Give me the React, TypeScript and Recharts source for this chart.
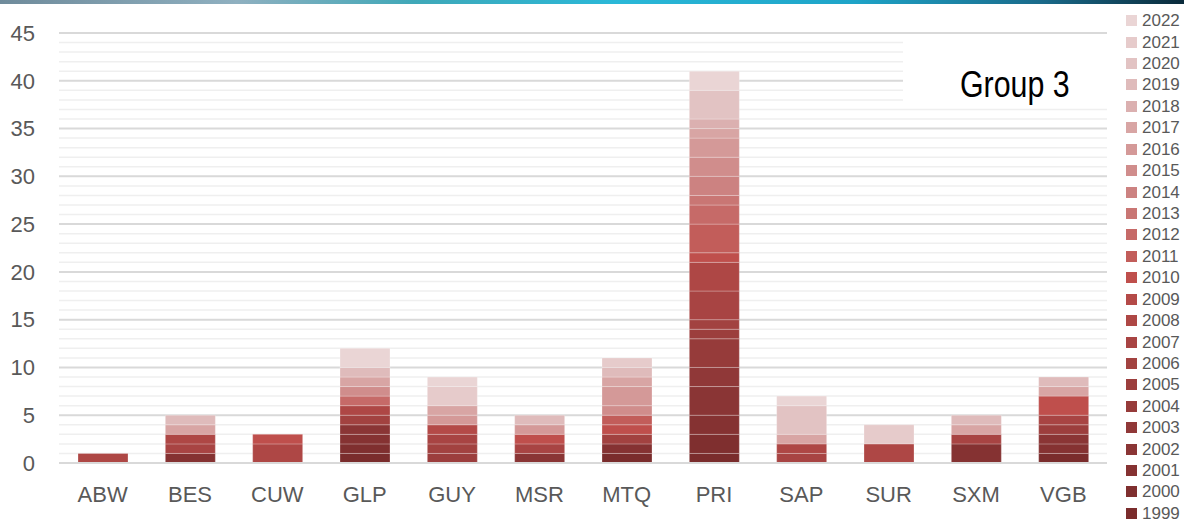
import React from 'react';
import { BarChart, Bar, XAxis, YAxis, CartesianGrid } from 'recharts';

const categories = ['ABW', 'BES', 'CUW', 'GLP', 'GUY', 'MSR', 'MTQ', 'PRI', 'SAP', 'SUR', 'SXM', 'VGB'];
const years = ['1999', '2000', '2001', '2002', '2003', '2004', '2005', '2006', '2007', '2008', '2009', '2010', '2011', '2012', '2013', '2014', '2015', '2016', '2017', '2018', '2019', '2020', '2021', '2022'];
const yTicks = [0, 5, 10, 15, 20, 25, 30, 35, 40, 45];
const minorGrid = [1, 2, 3, 4, 6, 7, 8, 9, 11, 12, 13, 14, 16, 17, 18, 19, 21, 22, 23, 24, 26, 27, 28, 29, 31, 32, 33, 34, 36, 37, 38, 39, 41, 42, 43, 44];

//            ABW BES CUW GLP GUY MSR MTQ PRI SAP SUR SXM VGB
const v1999 = [0, 0, 0, 1, 0, 0, 1, 1, 0, 0, 0, 1];
const v2000 = [0, 0, 0, 1, 0, 0, 0, 2, 0, 0, 0, 0];
const v2001 = [0, 1, 0, 1, 0, 0, 1, 2, 0, 0, 2, 1];
const v2002 = [0, 0, 0, 1, 0, 1, 0, 3, 0, 0, 0, 1];
const v2003 = [0, 0, 0, 0, 0, 0, 0, 2, 0, 0, 0, 0];
const v2004 = [0, 0, 0, 0, 0, 0, 0, 3, 0, 0, 0, 0];
const v2005 = [0, 0, 0, 0, 1, 0, 0, 1, 0, 0, 0, 1];
const v2006 = [0, 0, 0, 1, 1, 0, 1, 1, 0, 0, 0, 0];
const v2007 = [0, 1, 0, 0, 1, 1, 0, 3, 1, 0, 1, 1];
const v2008 = [1, 1, 2, 1, 0, 0, 0, 3, 1, 2, 0, 0];
const v2009 = [0, 0, 0, 0, 1, 0, 0, 0, 0, 0, 0, 0];
const v2010 = [0, 0, 1, 0, 0, 1, 1, 1, 0, 0, 0, 2];
const v2011 = [0, 0, 0, 0, 0, 0, 1, 3, 0, 0, 0, 0];
const v2012 = [0, 0, 0, 1, 0, 0, 0, 2, 0, 0, 0, 0];
const v2013 = [0, 0, 0, 0, 0, 0, 0, 1, 0, 0, 0, 0];
const v2014 = [0, 0, 0, 0, 0, 0, 0, 2, 0, 0, 0, 0];
const v2015 = [0, 0, 0, 1, 0, 0, 1, 2, 0, 0, 0, 0];
const v2016 = [0, 0, 0, 0, 1, 1, 2, 2, 0, 0, 0, 0];
const v2017 = [0, 1, 0, 1, 1, 0, 1, 1, 1, 0, 1, 1];
const v2018 = [0, 0, 0, 0, 0, 0, 0, 1, 0, 0, 0, 0];
const v2019 = [0, 1, 0, 1, 0, 1, 1, 0, 0, 0, 1, 1];
const v2020 = [0, 0, 0, 0, 0, 0, 0, 3, 3, 0, 0, 0];
const v2021 = [0, 0, 0, 0, 2, 0, 1, 0, 0, 2, 0, 0];
const v2022 = [0, 0, 0, 2, 1, 0, 0, 2, 1, 0, 0, 0];

const seriesValues = [v1999, v2000, v2001, v2002, v2003, v2004, v2005, v2006, v2007, v2008, v2009, v2010, v2011, v2012, v2013, v2014, v2015, v2016, v2017, v2018, v2019, v2020, v2021, v2022];

const colors = ['#7a2c2c', '#7f2f2f', '#853232', '#8a3535', '#903838', '#963b3a', '#9c3e3d', '#a24240', '#a84443', '#ae4745', '#b44a48', '#bf4f4c', '#c25d5a', '#c66a68', '#c97674', '#cc8281', '#d08d8c', '#d49998', '#d8a5a4', '#dbb0b0', '#dfbbbb', '#e2c3c3', '#e6cbcb', '#ead5d5'];

const data = categories.map((c, i) => {
  const row: Record<string, any> = { name: c };
  years.forEach((y, j) => {
    const v = seriesValues[j][i];
    row[y] = v === 0 ? null : v;
  });
  return row;
});

const FONT = 'Liberation Sans, Arial, sans-serif';

const LegendBlock = () => (
  <div style={{ position: 'absolute', left: 1126, top: 10, width: 58, fontFamily: FONT, fontSize: 17, color: '#595959', zIndex: 2 }}>
    {[...years].reverse().map((y) => {
      const idx = years.indexOf(y);
      return (
        <div key={y} style={{ height: 21.43, display: 'flex', alignItems: 'center' }}>
          <span style={{ width: 11, height: 11, background: colors[idx], display: 'inline-block', marginRight: 5, flex: 'none' }} />
          <span style={{ lineHeight: '17px' }}>{y}</span>
        </div>
      );
    })}
  </div>
);

export default function App() {
  return (
    <div style={{ position: 'absolute', left: 0, top: 0, width: 1184, height: 522, background: '#fff', overflow: 'hidden' }}>
      <div style={{ position: 'absolute', left: 0, top: 0, width: 1184, height: 4, background: 'linear-gradient(90deg, #6f8b9b 0%, #8fb0c0 20%, #3fa8b8 35%, #2ab8d8 52%, #1ea4c8 72%, #1a6a8a 88%, #0a2a3a 100%)', zIndex: 3 }} />
      <BarChart
        width={1184}
        height={522}
        data={data}
        margin={{ top: 33, right: 77, bottom: 0, left: 0 }}
        barSize={50}
      >
        <CartesianGrid vertical={false} horizontalValues={minorGrid} stroke="#efefef" strokeWidth={1.5} />
        <CartesianGrid vertical={false} horizontalValues={yTicks} stroke="#d9d9d9" strokeWidth={2} />
        <XAxis
          dataKey="name"
          height={59}
          axisLine={{ stroke: '#d9d9d9', strokeWidth: 2 }}
          tickLine={false}
          tickSize={0}
          tickMargin={23}
          tick={{ fill: '#595959', fontSize: 22, fontFamily: FONT }}
          interval={0}
        />
        <YAxis
          domain={[0, 45]}
          ticks={yTicks}
          axisLine={false}
          tickLine={false}
          tickSize={0}
          tickMargin={24}
          width={59}
          tick={{ fill: '#595959', fontSize: 22, fontFamily: FONT }}
          interval={0}
        />
        {years.map((y, j) => (
          <Bar
            key={y}
            dataKey={y}
            stackId="a"
            fill={colors[j]}
            stroke="rgba(255,255,255,0.25)"
            strokeWidth={1}
            isAnimationActive={false}
          />
        ))}
      </BarChart>
      <LegendBlock />
      <div
        style={{
          position: 'absolute',
          left: 903,
          top: 37,
          width: 205,
          height: 67,
          background: '#fff',
          zIndex: 2,
        }}
      >
        <span
          style={{
            position: 'absolute',
            left: 57,
            top: 29,
            fontFamily: FONT,
            fontSize: 37,
            color: '#000',
            lineHeight: '37px',
            transform: 'scaleX(0.82)',
            transformOrigin: 'left top',
            whiteSpace: 'nowrap',
          }}
        >
          Group 3
        </span>
      </div>
    </div>
  );
}
